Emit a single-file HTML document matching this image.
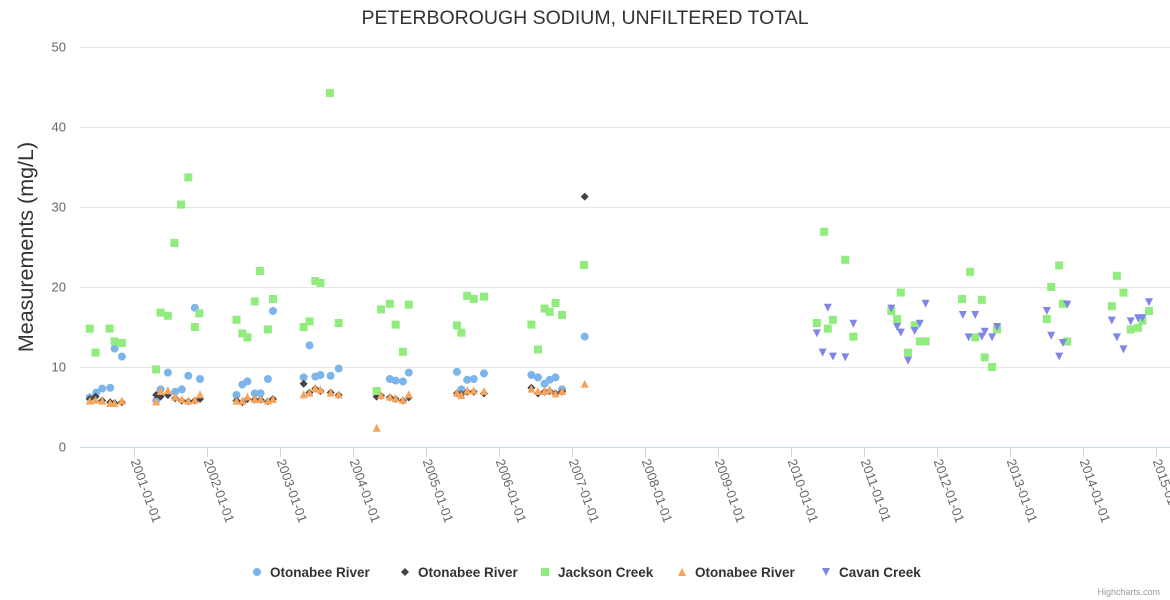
<!DOCTYPE html>
<html><head><meta charset="utf-8">
<style>
html,body{margin:0;padding:0;background:#fff;width:1170px;height:600px;overflow:hidden}
svg{font-family:"Liberation Sans","DejaVu Sans",sans-serif;display:block}
</style></head>
<body>
<svg id="chart" width="1170" height="600" viewBox="0 0 1170 600" xmlns="http://www.w3.org/2000/svg">
<text x="585" y="24" text-anchor="middle" font-size="19.5" fill="#333">PETERBOROUGH SODIUM, UNFILTERED TOTAL</text>
<text transform="translate(33,247) rotate(-90)" text-anchor="middle" font-size="21.5" fill="#333">Measurements (mg/L)</text>
<g id="grid"></g><g id="xaxis"></g><g id="marks"></g><g id="legend"></g>
<text x="1160" y="595" text-anchor="end" font-size="9" fill="#999">Highcharts.com</text>
</svg>
<script>
const yTicks=[0,10,20,30,40,50];
const xTickYears=[2001,2002,2003,2004,2005,2006,2007,2008,2009,2010,2011,2012,2013,2014,2015];
const xTickLabels=["2001-01-01","2002-01-01","2003-01-01","2004-01-01","2005-01-01","2006-01-01","2007-01-01","2008-01-01","2009-01-01","2010-01-01","2011-01-01","2012-01-01","2013-01-01","2014-01-01","2015-01-01"];
const seriesNames=["Otonabee River","Otonabee River","Jackson Creek","Otonabee River","Cavan Creek"];
const blueDates=[2000.39,2000.48,2000.56,2000.67,2000.73,2000.83,2001.30,2001.36,2001.46,2001.56,2001.65,2001.74,2001.83,2001.90,2002.40,2002.48,2002.55,2002.65,2002.73,2002.83,2002.90,2003.32,2003.40,2003.48,2003.55,2003.69,2003.80,2004.32,2004.50,2004.58,2004.68,2004.76,2005.42,2005.48,2005.56,2005.65,2005.79,2006.44,2006.53,2006.62,2006.69,2006.77,2006.86,2007.17];
const blueValues=[6.2,6.8,7.3,7.4,12.3,11.3,5.8,7.2,9.3,6.9,7.2,8.9,17.4,8.5,6.5,7.8,8.2,6.7,6.7,8.5,17.0,8.7,12.7,8.8,9.0,8.9,9.8,6.7,8.5,8.3,8.2,9.3,9.4,7.2,8.4,8.5,9.2,9.0,8.7,7.9,8.4,8.7,7.2,13.8];
const blackDates=[2000.39,2000.47,2000.56,2000.67,2000.73,2000.83,2001.30,2001.36,2001.46,2001.56,2001.65,2001.74,2001.83,2001.90,2002.40,2002.48,2002.55,2002.65,2002.73,2002.83,2002.90,2003.32,2003.40,2003.48,2003.55,2003.69,2003.80,2004.32,2004.38,2004.50,2004.58,2004.68,2004.76,2005.42,2005.48,2005.56,2005.65,2005.79,2006.44,2006.53,2006.62,2006.69,2006.77,2006.86,2007.17];
const blackValues=[6.0,6.3,5.8,5.6,5.5,5.6,6.5,6.3,6.5,6.1,5.8,5.7,5.8,6.0,5.8,5.6,6.0,5.9,5.9,5.7,6.0,7.9,6.8,7.3,7.0,6.8,6.5,6.3,6.4,6.2,6.0,5.8,6.2,6.7,6.6,6.9,6.9,6.7,7.4,6.7,6.9,7.0,6.7,6.9,31.3];
const greenDates=[2000.39,2000.47,2000.66,2000.73,2000.83,2001.30,2001.36,2001.46,2001.55,2001.64,2001.74,2001.83,2001.89,2002.40,2002.48,2002.55,2002.65,2002.72,2002.83,2002.90,2003.32,2003.40,2003.48,2003.55,2003.68,2003.80,2004.32,2004.38,2004.50,2004.58,2004.68,2004.76,2005.42,2005.48,2005.56,2005.65,2005.79,2006.44,2006.53,2006.62,2006.69,2006.77,2006.86,2007.16,2010.35,2010.45,2010.50,2010.57,2010.74,2010.85,2011.37,2011.45,2011.50,2011.60,2011.69,2011.76,2011.84,2012.34,2012.45,2012.52,2012.61,2012.65,2012.75,2012.82,2013.50,2013.56,2013.67,2013.72,2013.78,2014.39,2014.46,2014.55,2014.65,2014.75,2014.81,2014.90];
const greenValues=[14.8,11.8,14.8,13.2,13.0,9.7,16.8,16.4,25.5,30.3,33.7,15.0,16.7,15.9,14.2,13.7,18.2,22.0,14.7,18.5,15.0,15.7,20.75,20.5,44.25,15.5,7.0,17.2,17.9,15.3,11.9,17.8,15.2,14.3,18.9,18.5,18.8,15.3,12.2,17.3,16.9,18.0,16.5,22.75,15.5,26.9,14.8,15.9,23.4,13.8,17.0,16.0,19.3,11.8,15.2,13.2,13.2,18.5,21.9,13.7,18.4,11.2,10.0,14.7,16.0,20.0,22.7,17.9,13.2,17.6,21.4,19.3,14.7,14.9,15.8,17.0];
const orangeDates=[2000.39,2000.47,2000.56,2000.67,2000.73,2000.83,2001.30,2001.36,2001.46,2001.56,2001.65,2001.74,2001.83,2001.90,2002.40,2002.48,2002.55,2002.65,2002.73,2002.83,2002.90,2003.32,2003.40,2003.48,2003.55,2003.69,2003.80,2004.32,2004.38,2004.50,2004.58,2004.68,2004.76,2005.42,2005.48,2005.56,2005.65,2005.79,2006.44,2006.53,2006.62,2006.69,2006.77,2006.86,2007.17];
const orangeValues=[5.8,5.9,5.8,5.5,5.5,5.8,5.7,7.0,7.1,6.3,6.0,5.8,5.9,6.6,5.8,5.8,6.3,6.0,6.0,5.8,6.0,6.6,6.8,7.4,7.2,6.8,6.6,2.4,6.5,6.3,6.1,5.9,6.6,6.8,6.5,7.1,7.1,7.0,7.3,7.0,7.0,7.2,6.7,7.0,7.9];
const purpleDates=[2010.35,2010.43,2010.50,2010.57,2010.74,2010.85,2011.37,2011.45,2011.50,2011.60,2011.69,2011.76,2011.84,2012.35,2012.43,2012.52,2012.61,2012.65,2012.75,2012.82,2013.50,2013.56,2013.67,2013.72,2013.78,2014.39,2014.46,2014.55,2014.65,2014.75,2014.81,2014.90];
const purpleValues=[14.2,11.8,17.4,11.3,11.2,15.4,17.3,15.0,14.3,10.8,14.5,15.4,17.9,16.5,13.7,16.5,13.8,14.4,13.7,15.0,17.0,13.9,11.3,13.0,17.8,15.8,13.7,12.2,15.7,16.1,16.1,18.1];

const NS="http://www.w3.org/2000/svg";
const PL=80,PR=1170,PT=47,PB=447;
function xPos(yr){return 134.3+(yr-2001)*73;}
function yPos(v){return PB-(v/50)*(PB-PT);}
function mk(tag,attrs,parent){const e=document.createElementNS(NS,tag);for(const k in attrs)e.setAttribute(k,attrs[k]);parent.appendChild(e);return e;}
const grid=document.getElementById('grid'),xa=document.getElementById('xaxis'),marks=document.getElementById('marks'),leg=document.getElementById('legend');
yTicks.forEach(t=>{
  const y=Math.round(yPos(t))+0.5;
  if(t>0){const l=mk('line',{x1:PL,x2:PR,y1:y,y2:y,stroke:'#e6e6e6'},grid);
  
  }
  const tx=mk('text',{x:66,y:y+4,'text-anchor':'end','font-size':13,fill:'#666'},grid);
  
  
  tx.textContent=t;
});
const axl=mk('line',{x1:PL,x2:PR,y1:PB+0.5,y2:PB+0.5,stroke:'#ccd6eb'},xa);


xTickYears.forEach((yr,i)=>{
  const x=Math.round(xPos(yr))+0.5;
  const tk=mk('line',{x1:x,x2:x,y1:PB,y2:PB+10,stroke:'#ccd6eb'},xa);
  
  
  const tx=mk('text',{transform:`translate(${x-4},${PB+14}) rotate(70)`,'font-size':13,fill:'#666'},xa);
  
  
  tx.textContent=xTickLabels[i];
});
function marker(shape,cx,cy,color,parent){
  let e;
  if(shape==='circle')e=mk('circle',{cx:cx,cy:cy,r:4,fill:color},parent);
  else if(shape==='diamond')e=mk('path',{d:`M${cx} ${cy-4}L${cx+4} ${cy}L${cx} ${cy+4}L${cx-4} ${cy}Z`,fill:color},parent);
  else if(shape==='square')e=mk('rect',{x:cx-4,y:cy-4,width:8,height:8,fill:color},parent);
  else if(shape==='triangle')e=mk('path',{d:`M${cx} ${cy-4}L${cx+4} ${cy+4}L${cx-4} ${cy+4}Z`,fill:color},parent);
  else e=mk('path',{d:`M${cx-4} ${cy-4}L${cx+4} ${cy-4}L${cx} ${cy+4}Z`,fill:color},parent);
  return e;
}
const series=[
  {d:blueDates,v:blueValues,shape:'circle',color:'#7cb5ec',name:'otonabee-river-1'},
  {d:blackDates,v:blackValues,shape:'diamond',color:'#434348',name:'otonabee-river-2'},
  {d:greenDates,v:greenValues,shape:'square',color:'#90ed7d',name:'jackson-creek'},
  {d:orangeDates,v:orangeValues,shape:'triangle',color:'#f7a35c',name:'otonabee-river-3'},
  {d:purpleDates,v:purpleValues,shape:'triangle-down',color:'#8085e9',name:'cavan-creek'}
];
series.forEach(s=>{
  s.d.forEach((yr,i)=>{
    const e=marker(s.shape,xPos(yr),yPos(s.v[i]),s.color,marks);
    
    
  });
});
const legX=[257,405,545,682,826];
series.forEach((s,i)=>{
  const g=mk('g',{},leg);
  
  
  marker(s.shape,legX[i],572,s.color,g);
  const t=mk('text',{x:legX[i]+13,y:577,'font-size':13.5,'font-weight':'bold',fill:'#333'},g);
  t.textContent=seriesNames[i];
});
</script>
</body></html>
